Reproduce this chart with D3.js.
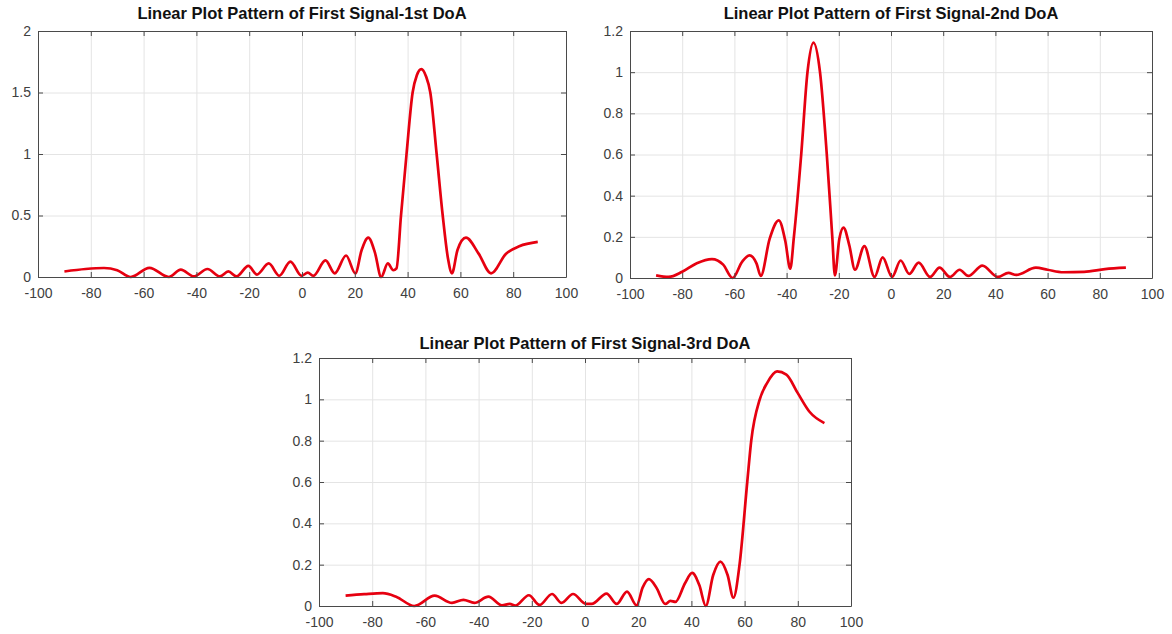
<!DOCTYPE html>
<html>
<head>
<meta charset="utf-8">
<script src="https://cdn.jsdelivr.net/npm/d3@7"></script>
<style>
  body { margin: 0; background: #fff; }
  svg { display: block; font-family: "Liberation Sans", Arial, sans-serif; }
</style>
</head>
<body>
<script>
// tick labels
const xTicks = [-100, -80, -60, -40, -20, 0, 20, 40, 60, 80, 100];
const yTicks1 = [0, 0.5, 1, 1.5, 2];
const yTicks2 = [0, 0.2, 0.4, 0.6, 0.8, 1, 1.2];

// 1st DoA
const doa1Angles = [-90, -82, -75, -70, -64.9, -57.8, -50.4, -45.9, -41, -35.8, -31.1, -27.9, -24.8,
  -20.3, -17.1, -12.6, -8.6, -4.4, -0.2, 2.2, 4.3, 8.9, 12.4, 16.7, 20.2, 22.6, 25.1, 27.6, 30, 32.5, 34.6,
  35.8, 37.5, 39.6, 41.9, 43.5, 45.2, 47, 48.6, 51, 53.3, 55.3, 56.8, 58.9, 62.1, 66.9, 71.6,
  77.3, 82.3, 89.3];
const doa1Gain = [0.045, 0.065, 0.073, 0.055, 0.0, 0.075, 0.0, 0.06, 0.005, 0.065, 0.005, 0.045, 0.005,
  0.09, 0.02, 0.11, 0.01, 0.125, 0.01, 0.035, 0.01, 0.135, 0.03, 0.175, 0.03, 0.22, 0.32, 0.2, 0.0, 0.11, 0.055,
  0.07, 0.5, 1.0, 1.5, 1.64, 1.69, 1.63, 1.5, 1.0, 0.5, 0.15, 0.03, 0.22, 0.32, 0.19, 0.03,
  0.19, 0.25, 0.285];

// 2nd DoA
const doa2Angles = [-90, -85.2, -80, -74.4, -68.6, -64.3, -60.7, -57, -54.2, -51.5, -49.9, -46.5, -43, -40.5, -38.6,
  -37.2, -34.4, -32, -29.7, -27.2, -24.6, -22.5, -21.5, -19.8, -18.2, -16, -13.8, -10.2, -6.3, -3.2, 0.4, 3.7,
  7, 10.6, 15, 18.6, 22.6, 26.3, 29.6, 35, 41, 45, 48, 55.5, 60, 66, 74, 82, 90];
const doa2Gain = [0.013, 0.005, 0.03, 0.072, 0.092, 0.065, 0.0, 0.08, 0.11, 0.07, 0.01, 0.19, 0.28, 0.18, 0.045,
  0.2, 0.6, 1.0, 1.144, 1.0, 0.6, 0.2, 0.013, 0.19, 0.245, 0.16, 0.04, 0.155, 0.005, 0.1, 0.005, 0.085,
  0.02, 0.075, 0.005, 0.05, 0.005, 0.04, 0.01, 0.06, 0.005, 0.025, 0.015, 0.05, 0.04, 0.028, 0.03, 0.043, 0.05];

// 3rd DoA
const doa3Angles = [-90, -83, -76, -71, -64.2, -56.5, -50, -45.7, -41.6, -36.3, -31.2, -28.3, -26.2,
  -21.1, -17.1, -12.4, -8.8, -4.5, 0.3, 2.5, 8.1, 11.9, 15.8, 19.4, 21.7, 24, 26.8, 30.2, 32.1, 34,
  37.6, 40.3, 43, 45.4, 48.2, 50.9, 53.6, 55.8, 58.1, 61, 62.5, 65.7, 68.5, 72.2, 75.7, 80, 84.4, 90];
const doa3Gain = [0.05, 0.057, 0.062, 0.045, 0.0, 0.05, 0.015, 0.03, 0.015, 0.045, 0.003, 0.01, 0.002,
  0.052, 0.005, 0.058, 0.015, 0.058, 0.01, 0.01, 0.06, 0.01, 0.07, 0.003, 0.09, 0.13, 0.09, 0.01, 0.025, 0.02,
  0.11, 0.16, 0.1, 0.0, 0.15, 0.215, 0.15, 0.04, 0.2, 0.6, 0.8, 1.0, 1.08, 1.135, 1.12, 1.03, 0.94, 0.885];

const svg = d3.select('body').append('svg')
  .attr('width', 1172)
  .attr('height', 634);

function drawPanel(p) {
  const w = p.right - p.left;
  const h = p.bottom - p.top;
  const g = svg.append('g').attr('transform', `translate(${p.left},${p.top})`);

  const x = d3.scaleLinear().domain([-100, 100]).range([0, w]);
  const y = d3.scaleLinear().domain([0, p.yMax]).range([h, 0]);

  // grid
  g.append('g')
    .attr('transform', `translate(0,${h})`)
    .call(d3.axisBottom(x).tickValues(xTicks).tickSize(-h).tickFormat(''))
    .call(a => a.select('.domain').remove())
    .call(a => a.selectAll('line').attr('stroke', '#e4e4e4'));
  g.append('g')
    .call(d3.axisLeft(y).tickValues(p.yTicks).tickSize(-w).tickFormat(''))
    .call(a => a.select('.domain').remove())
    .call(a => a.selectAll('line').attr('stroke', '#e4e4e4'));

  // curve
  const line = d3.line()
    .x(d => x(d[0]))
    .y(d => y(d[1]))
    .curve(d3.curveMonotoneX);
  g.append('path')
    .datum(d3.zip(p.angles, p.gain))
    .attr('fill', 'none')
    .attr('stroke', '#e60010')
    .attr('stroke-width', 2.7)
    .attr('stroke-linejoin', 'round')
    .attr('d', line);

  // axes with inward ticks
  const styleAxis = a => {
    a.select('.domain').attr('stroke', '#4a4a4a');
    a.selectAll('.tick line').attr('stroke', '#4a4a4a');
    a.selectAll('text').attr('fill', '#404040').attr('font-size', 14);
  };
  g.append('g')
    .attr('transform', `translate(0,${h})`)
    .call(d3.axisBottom(x).tickValues(xTicks).tickSizeInner(-5).tickSizeOuter(0).tickPadding(11)
      .tickFormat(d => String(d)))
    .call(styleAxis);
  g.append('g')
    .call(d3.axisLeft(y).tickValues(p.yTicks).tickSizeInner(-5).tickSizeOuter(0).tickPadding(7)
      .tickFormat(d => String(d)))
    .call(styleAxis);
  g.append('g')
    .call(d3.axisTop(x).tickValues(xTicks).tickSizeInner(-5).tickSizeOuter(0).tickFormat(''))
    .call(styleAxis);
  g.append('g')
    .attr('transform', `translate(${w},0)`)
    .call(d3.axisRight(y).tickValues(p.yTicks).tickSizeInner(-5).tickSizeOuter(0).tickFormat(''))
    .call(styleAxis);

  g.append('text')
    .attr('x', w / 2)
    .attr('y', p.titleDy)
    .attr('text-anchor', 'middle')
    .attr('font-size', 16.5)
    .attr('font-weight', 'bold')
    .attr('fill', '#111')
    .text(p.title);
}

drawPanel({ left: 38, right: 566, top: 31, bottom: 277, yMax: 2, yTicks: yTicks1, titleDy: -12,
  angles: doa1Angles, gain: doa1Gain, title: 'Linear Plot Pattern of First Signal-1st DoA' });
drawPanel({ left: 630, right: 1152, top: 31, bottom: 278, yMax: 1.2, yTicks: yTicks2, titleDy: -12,
  angles: doa2Angles, gain: doa2Gain, title: 'Linear Plot Pattern of First Signal-2nd DoA' });
drawPanel({ left: 319, right: 851, top: 358, bottom: 606, yMax: 1.2, yTicks: yTicks2, titleDy: -9,
  angles: doa3Angles, gain: doa3Gain, title: 'Linear Plot Pattern of First Signal-3rd DoA' });
</script>
</body>
</html>
